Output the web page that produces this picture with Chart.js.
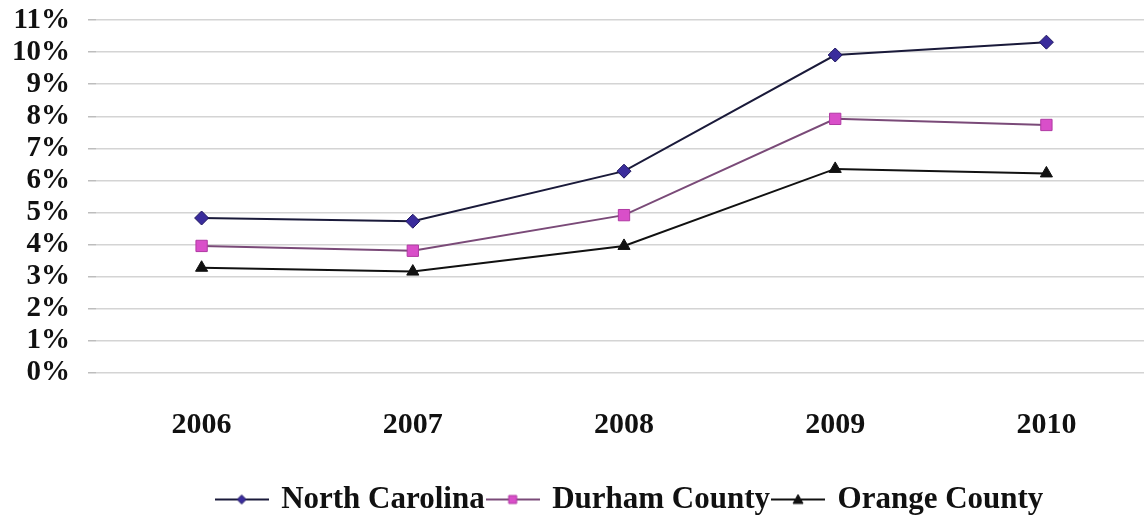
<!DOCTYPE html>
<html>
<head>
<meta charset="utf-8">
<script src="https://cdn.jsdelivr.net/npm/chart.js@4.4.1/dist/chart.umd.min.js"></script>
<style>
  html, body { margin: 0; padding: 0; background: #fff; overflow: hidden; }
  #wrap { position: relative; width: 1161px; height: 521px; }
</style>
</head>
<body>
<div id="wrap"><canvas id="c" width="1161" height="521"></canvas></div>
<script>
// Unemployment rate by year
const years = ['2006', '2007', '2008', '2009', '2010'];
const northCarolina = [4.83, 4.73, 6.29, 9.91, 10.31];
const durhamCounty  = [3.96, 3.81, 4.92, 7.92, 7.73];
const orangeCounty  = [3.28, 3.16, 3.96, 6.36, 6.22];
const yTickValues   = [0, 1, 2, 3, 4, 5, 6, 7, 8, 9, 10, 11];

const FONT = "'Liberation Serif', 'Times New Roman', serif";

// Small legend swatch: a line with the series marker in its middle
function legendIcon(lineColor, shape, fill, stroke) {
  const w = 54, h = 20;
  const cv = document.createElement('canvas');
  cv.width = w; cv.height = h;
  const ctx = cv.getContext('2d');
  ctx.strokeStyle = lineColor;
  ctx.lineWidth = 2;
  ctx.beginPath(); ctx.moveTo(0, h / 2); ctx.lineTo(w, h / 2); ctx.stroke();
  ctx.fillStyle = fill; ctx.strokeStyle = stroke; ctx.lineWidth = 1;
  const cx = w / 2, cy = h / 2;
  ctx.beginPath();
  if (shape === 'diamond') {
    ctx.moveTo(cx, cy - 4.5); ctx.lineTo(cx + 4.5, cy); ctx.lineTo(cx, cy + 4.5); ctx.lineTo(cx - 4.5, cy);
  } else if (shape === 'square') {
    ctx.rect(cx - 4, cy - 4, 8, 8);
  } else {
    ctx.moveTo(cx, cy - 5); ctx.lineTo(cx + 5, cy + 4); ctx.lineTo(cx - 5, cy + 4);
  }
  ctx.closePath(); ctx.fill(); ctx.stroke();
  return cv;
}

const icons = [
  legendIcon('#1a1a3a', 'diamond', '#3a2c9c', '#1f1760'),
  legendIcon('#7a4a78', 'square', '#d94fc9', '#b03aa3'),
  legendIcon('#111111', 'triangle', '#111111', '#111111')
];

// Place the bottom legend under the plot, a little right of the canvas centre
const legendShift = {
  id: 'legendShift',
  afterLayout(chart) {
    const lg = chart.legend;
    if (!lg) return;
    lg.left += 50; lg.right += 50;
    lg.top += 4; lg.bottom += 4;
  }
};

new Chart(document.getElementById('c'), {
  type: 'line',
  data: {
    labels: years,
    datasets: [
      {
        label: 'North Carolina',
        data: northCarolina,
        borderColor: '#1a1a3a',
        borderWidth: 2,
        pointStyle: 'rectRot',
        pointRadius: 7,
        pointBackgroundColor: '#3a2c9c',
        pointBorderColor: '#1f1760',
        pointBorderWidth: 1,
        tension: 0
      },
      {
        label: 'Durham County',
        data: durhamCounty,
        borderColor: '#7a4a78',
        borderWidth: 2,
        pointStyle: 'rect',
        pointRadius: 8,
        pointBackgroundColor: '#d94fc9',
        pointBorderColor: '#b03aa3',
        pointBorderWidth: 1,
        tension: 0
      },
      {
        label: 'Orange County',
        data: orangeCounty,
        borderColor: '#111111',
        borderWidth: 2,
        pointStyle: 'triangle',
        pointRadius: 7,
        pointBackgroundColor: '#111111',
        pointBorderColor: '#111111',
        pointBorderWidth: 1,
        tension: 0
      }
    ]
  },
  options: {
    responsive: false,
    animation: false,
    layout: { padding: { top: 0, right: 0, bottom: 0, left: 0 } },
    scales: {
      x: {
        offset: true,
        grid: { display: false, drawTicks: false },
        border: { display: false },
        ticks: {
          color: '#111',
          font: { family: FONT, size: 30, weight: 'bold' },
          padding: 34,
          maxRotation: 0
        },
        afterFit(scale) { scale.height = 103; }
      },
      y: {
        min: 0,
        max: 11,
        afterBuildTicks(scale) { scale.ticks = yTickValues.map(v => ({ value: v })); },
        grid: { color: '#d4d4d4', lineWidth: 1.5, drawTicks: true, tickLength: 8, tickColor: '#bdbdbd' },
        border: { display: false },
        ticks: {
          autoSkip: false,
          color: '#111',
          font: { family: FONT, size: 29, weight: 'bold', lineHeight: 0.14 },
          padding: 18,
          callback: v => v + '%'
        },
        afterFit(scale) { scale.width = 96; }
      }
    },
    plugins: {
      tooltip: { enabled: false },
      legend: {
        position: 'bottom',
        labels: {
          color: '#111',
          font: { family: FONT, size: 31, weight: 'bold' },
          usePointStyle: true,
          pointStyleWidth: 48,
          padding: 4,
          generateLabels(chart) {
            return chart.data.datasets.map((ds, i) => ({
              text: ds.label,
              pointStyle: icons[i],
              fillStyle: 'transparent',
              strokeStyle: 'transparent',
              lineWidth: 0,
              fontColor: '#111',
              datasetIndex: i,
              hidden: false
            }));
          }
        }
      }
    }
  },
  plugins: [legendShift]
});
</script>
</body>
</html>
